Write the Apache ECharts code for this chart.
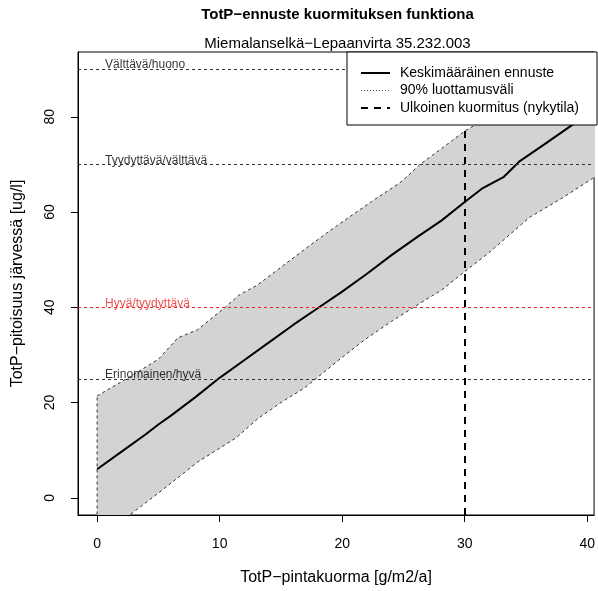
<!DOCTYPE html>
<html><head><meta charset="utf-8">
<script src="https://cdn.jsdelivr.net/npm/echarts@6/dist/echarts.min.js"></script>
<style>html,body{margin:0;padding:0;background:#fff}#c{width:598px;height:591px}</style>
</head><body><div id="c"></div>
<script>
const titleText = 'TotP\u2212ennuste kuormituksen funktiona';
const subtitleText = 'Miemalanselkä\u2212Lepaanvirta 35.232.003';
const xTitle = 'TotP\u2212pintakuorma [g/m2/a]';
const yTitle = 'TotP\u2212pitoisuus järvessä [ug/l]';
const xTicks = [0, 10, 20, 30, 40];
const yTicks = [0, 20, 40, 60, 80];

const meanX = [0, 2, 4, 5, 6, 8, 10, 12, 14, 16, 18, 20, 22, 24, 26.2, 28.1, 30, 31.4, 33.2, 34.5, 36.5, 38.9, 41];
const meanY = [6, 9.7, 13.4, 15.4, 17.2, 21.1, 25.2, 28.9, 32.6, 36.3, 39.8, 43.3, 47.0, 50.9, 54.9, 58.2, 62.1, 64.9, 67.4, 70.7, 74.2, 78.5, 82.2];

const upperX = [0, 2.6, 5, 6.6, 8.2, 10.4, 11.6, 13.1, 15.1, 17, 18.9, 20.5, 22.4, 24.8, 26.4, 28.2, 30, 31.2, 33, 35, 37, 39, 41];
const upperY = [21.4, 25.3, 29.1, 33.6, 35.3, 39.9, 42.6, 44.7, 48.6, 52.3, 55.9, 58.8, 62.2, 66.3, 70.1, 73.5, 77, 78.8, 82, 86, 89.5, 93, 96.5];

const lowerX = [0, 2.7, 5, 8.2, 11.4, 13.1, 15, 17, 19.9, 21.9, 24, 26.2, 28.1, 30, 32, 35.3, 38, 40.4, 41];
const lowerY = [-9, -3.5, 1.0, 7.5, 12.7, 16.6, 20, 23.2, 29.3, 33.3, 37, 40.6, 43.6, 47.5, 51.5, 58.9, 63, 67, 68];

const thresholdValues = [90, 70, 40, 25];
const thresholdLabels = ['Välttävä/huono', 'Tyydyttävä/välttävä', 'Hyvä/tyydyttävä', 'Erinomainen/hyvä'];
const thresholdColors = ['#333333', '#333333', '#ee2222', '#333333'];

const currentLoad = 30;
const legendLabels = ['Keskimääräinen ennuste', '90% luottamusväli', 'Ulkoinen kuormitus (nykytila)'];

const FONT = 'Liberation Sans, Arial, Helvetica, sans-serif';
const chart = echarts.init(document.getElementById('c'), null, {renderer: 'canvas'});

const GL = 78, GT = 52, GR = 1, GB = 73;

const series = [];
series.push({
  type: 'custom', clip: true, silent: true, z: 1,
  data: [0],
  renderItem: function (params, api) {
    const pts = [];
    for (let i = 0; i < upperX.length; i++) pts.push(api.coord([upperX[i], upperY[i]]));
    for (let i = lowerX.length - 1; i >= 0; i--) pts.push(api.coord([lowerX[i], lowerY[i]]));
    return {type: 'polygon', shape: {points: pts},
      style: {fill: '#d3d3d3', stroke: '#333333', lineWidth: 1, lineDash: [3, 3]}};
  }
});
thresholdValues.forEach(function (v, i) {
  series.push({
    type: 'line', data: [], silent: true, z: 2,
    markLine: {symbol: 'none', silent: true, animation: false,
      lineStyle: {color: thresholdColors[i], type: [3, 3], width: 1},
      label: {show: false}, data: [{yAxis: v}]}
  });
  series.push({
    type: 'scatter', data: [[0, v]], symbolSize: 0, silent: true, z: 4,
    label: {show: true, position: 'right', distance: 8, offset: [0, -4],
      formatter: thresholdLabels[i], color: thresholdColors[i] === '#333333' ? '#000' : thresholdColors[i],
      fontSize: 12, fontFamily: FONT}
  });
});
series.push({
  type: 'line', data: meanX.map(function (x, i) { return [x, meanY[i]]; }),
  showSymbol: false, z: 3, silent: true, animation: false,
  lineStyle: {color: '#000', width: 2}
});
series.push({
  type: 'line', data: [], silent: true, z: 3,
  markLine: {symbol: 'none', silent: true, animation: false,
    lineStyle: {color: '#000', type: [7, 6], width: 2},
    label: {show: false}, data: [{xAxis: currentLoad}]}
});

const lx = 347, ly = 52, lw = 250, lh = 73;
const rowY = [73, 90.5, 108];
const legendGraphics = [
  {type: 'rect', shape: {x: lx, y: ly, width: lw, height: lh}, style: {fill: '#fff', stroke: '#000', lineWidth: 1}, z: 100},
  {type: 'line', shape: {x1: 361, y1: rowY[0], x2: 390, y2: rowY[0]}, style: {stroke: '#000', lineWidth: 2}, z: 101},
  {type: 'line', shape: {x1: 361, y1: rowY[1], x2: 390, y2: rowY[1]}, style: {stroke: '#555', lineWidth: 1, lineDash: [1, 2]}, z: 101},
  {type: 'line', shape: {x1: 361, y1: rowY[2], x2: 390, y2: rowY[2]}, style: {stroke: '#000', lineWidth: 2, lineDash: [7, 6]}, z: 101}
];
legendLabels.forEach(function (t, i) {
  legendGraphics.push({type: 'text', x: 400, y: rowY[i], z: 101,
    style: {text: t, fill: '#000', font: '14px ' + FONT, textAlign: 'left', textVerticalAlign: 'middle'}});
});

const option = {
  backgroundColor: '#fff',
  animation: false,
  grid: {left: GL, top: GT, right: GR, bottom: GB, show: true, borderColor: '#000', borderWidth: 1, backgroundColor: 'transparent'},
  xAxis: {
    type: 'value', min: -1.56, max: 40.56,
    name: xTitle, nameLocation: 'middle', nameGap: 55,
    nameTextStyle: {fontSize: 16, fontFamily: FONT, color: '#000'},
    axisLine: {show: true, onZero: false, lineStyle: {color: '#000'}},
    axisTick: {show: true, length: 7, customValues: xTicks, lineStyle: {color: '#000'}},
    axisLabel: {customValues: xTicks, margin: 22, fontSize: 14, fontFamily: FONT, color: '#000'},
    splitLine: {show: false}
  },
  yAxis: {
    type: 'value', min: -3.6, max: 93.6,
    name: yTitle, nameLocation: 'middle', nameGap: 52, nameRotate: 90,
    nameTextStyle: {fontSize: 16, fontFamily: FONT, color: '#000'},
    axisLine: {show: true, onZero: false, lineStyle: {color: '#000'}},
    axisTick: {show: true, length: 7, customValues: yTicks, lineStyle: {color: '#000'}},
    axisLabel: {customValues: yTicks, rotate: 90, margin: 21, fontSize: 14, fontFamily: FONT, color: '#000'},
    splitLine: {show: false}
  },
  graphic: [
    {type: 'text', x: 337.5, y: 15, z: 100, style: {text: titleText, fill: '#000', font: 'bold 15px ' + FONT, textAlign: 'center', textVerticalAlign: 'middle'}},
    {type: 'text', x: 337.5, y: 44, z: 100, style: {text: subtitleText, fill: '#000', font: '15px ' + FONT, textAlign: 'center', textVerticalAlign: 'middle'}}
  ].concat(legendGraphics),
  series: series
};
chart.setOption(option);
</script></body></html>
